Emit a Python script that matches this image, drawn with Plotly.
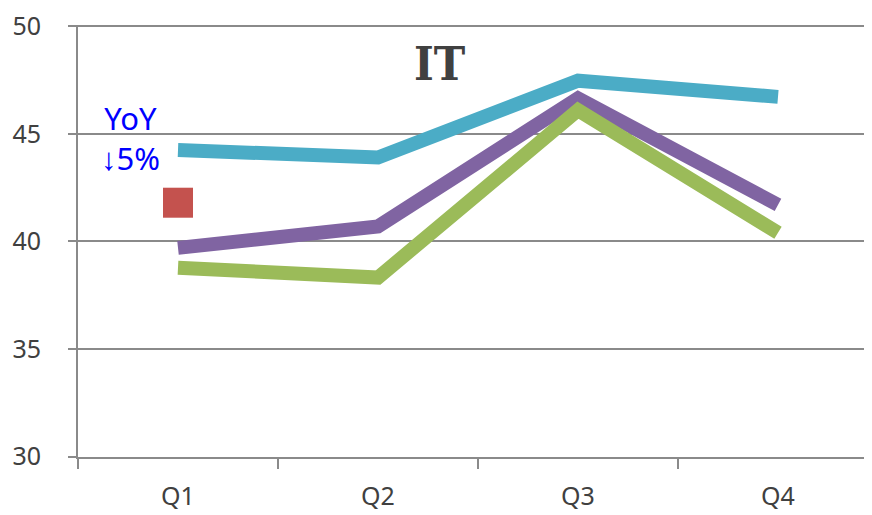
import plotly.graph_objects as go

quarters = ["Q1", "Q2", "Q3", "Q4"]
teal_vals = [44.25, 43.9, 47.47, 46.72]
purple_vals = [39.7, 40.7, 46.65, 41.7]
green_vals = [38.78, 38.32, 46.1, 40.4]
marker_cat = ["Q1"]
marker_vals = [41.8]
y_ticks = [30, 35, 40, 45, 50]

fig = go.Figure()
for vals, col in [(teal_vals, "#4BACC6"), (purple_vals, "#8064A2"), (green_vals, "#9BBB59")]:
    fig.add_trace(go.Scatter(x=quarters, y=vals, mode="lines",
                             line=dict(color=col, width=14), showlegend=False,
                             hoverinfo="skip"))
fig.add_trace(go.Scatter(x=marker_cat, y=marker_vals, mode="markers",
                         marker=dict(symbol="square", size=30, color="#C4524E",
                                     line=dict(width=0)),
                         showlegend=False, hoverinfo="skip"))

axis_font = dict(family="Noto Sans", size=25, color="#404040")
fig.update_layout(
    width=864, height=507,
    margin=dict(l=70, r=0, t=13, b=58),
    paper_bgcolor="white", plot_bgcolor="white",
    xaxis=dict(type="category", range=[-0.5, 3.47], tickson="boundaries",
               ticks="outside", ticklen=10, tickcolor="#8a8a8a", tickwidth=2,
               showgrid=False, showline=True, linecolor="#8a8a8a", linewidth=2,
               zeroline=False, tickfont=axis_font, ticklabelstandoff=16),
    yaxis=dict(range=[29.98, 50.06], tickvals=y_ticks, ticks="outside", ticklen=8,
               tickcolor="#8a8a8a", tickwidth=2, showline=True, linecolor="#8a8a8a",
               linewidth=2, showgrid=True, gridcolor="#8a8a8a", gridwidth=2,
               zeroline=False, tickfont=axis_font, ticklabelstandoff=22,
               ticklabeloverflow="allow"),
    annotations=[
        dict(x=1.31, y=48.25, xref="x", yref="y", text="<b>IT</b>", showarrow=False,
             font=dict(family="DejaVu Serif Condensed", size=47, color="#404040")),
        dict(x=-0.24, y=44.8, xref="x", yref="y", text="YoY<br>↓5%", showarrow=False,
             font=dict(family="Noto Sans", size=31, color="#0000FF"), align="center"),
    ],
)
fig.write_html("out.html")
